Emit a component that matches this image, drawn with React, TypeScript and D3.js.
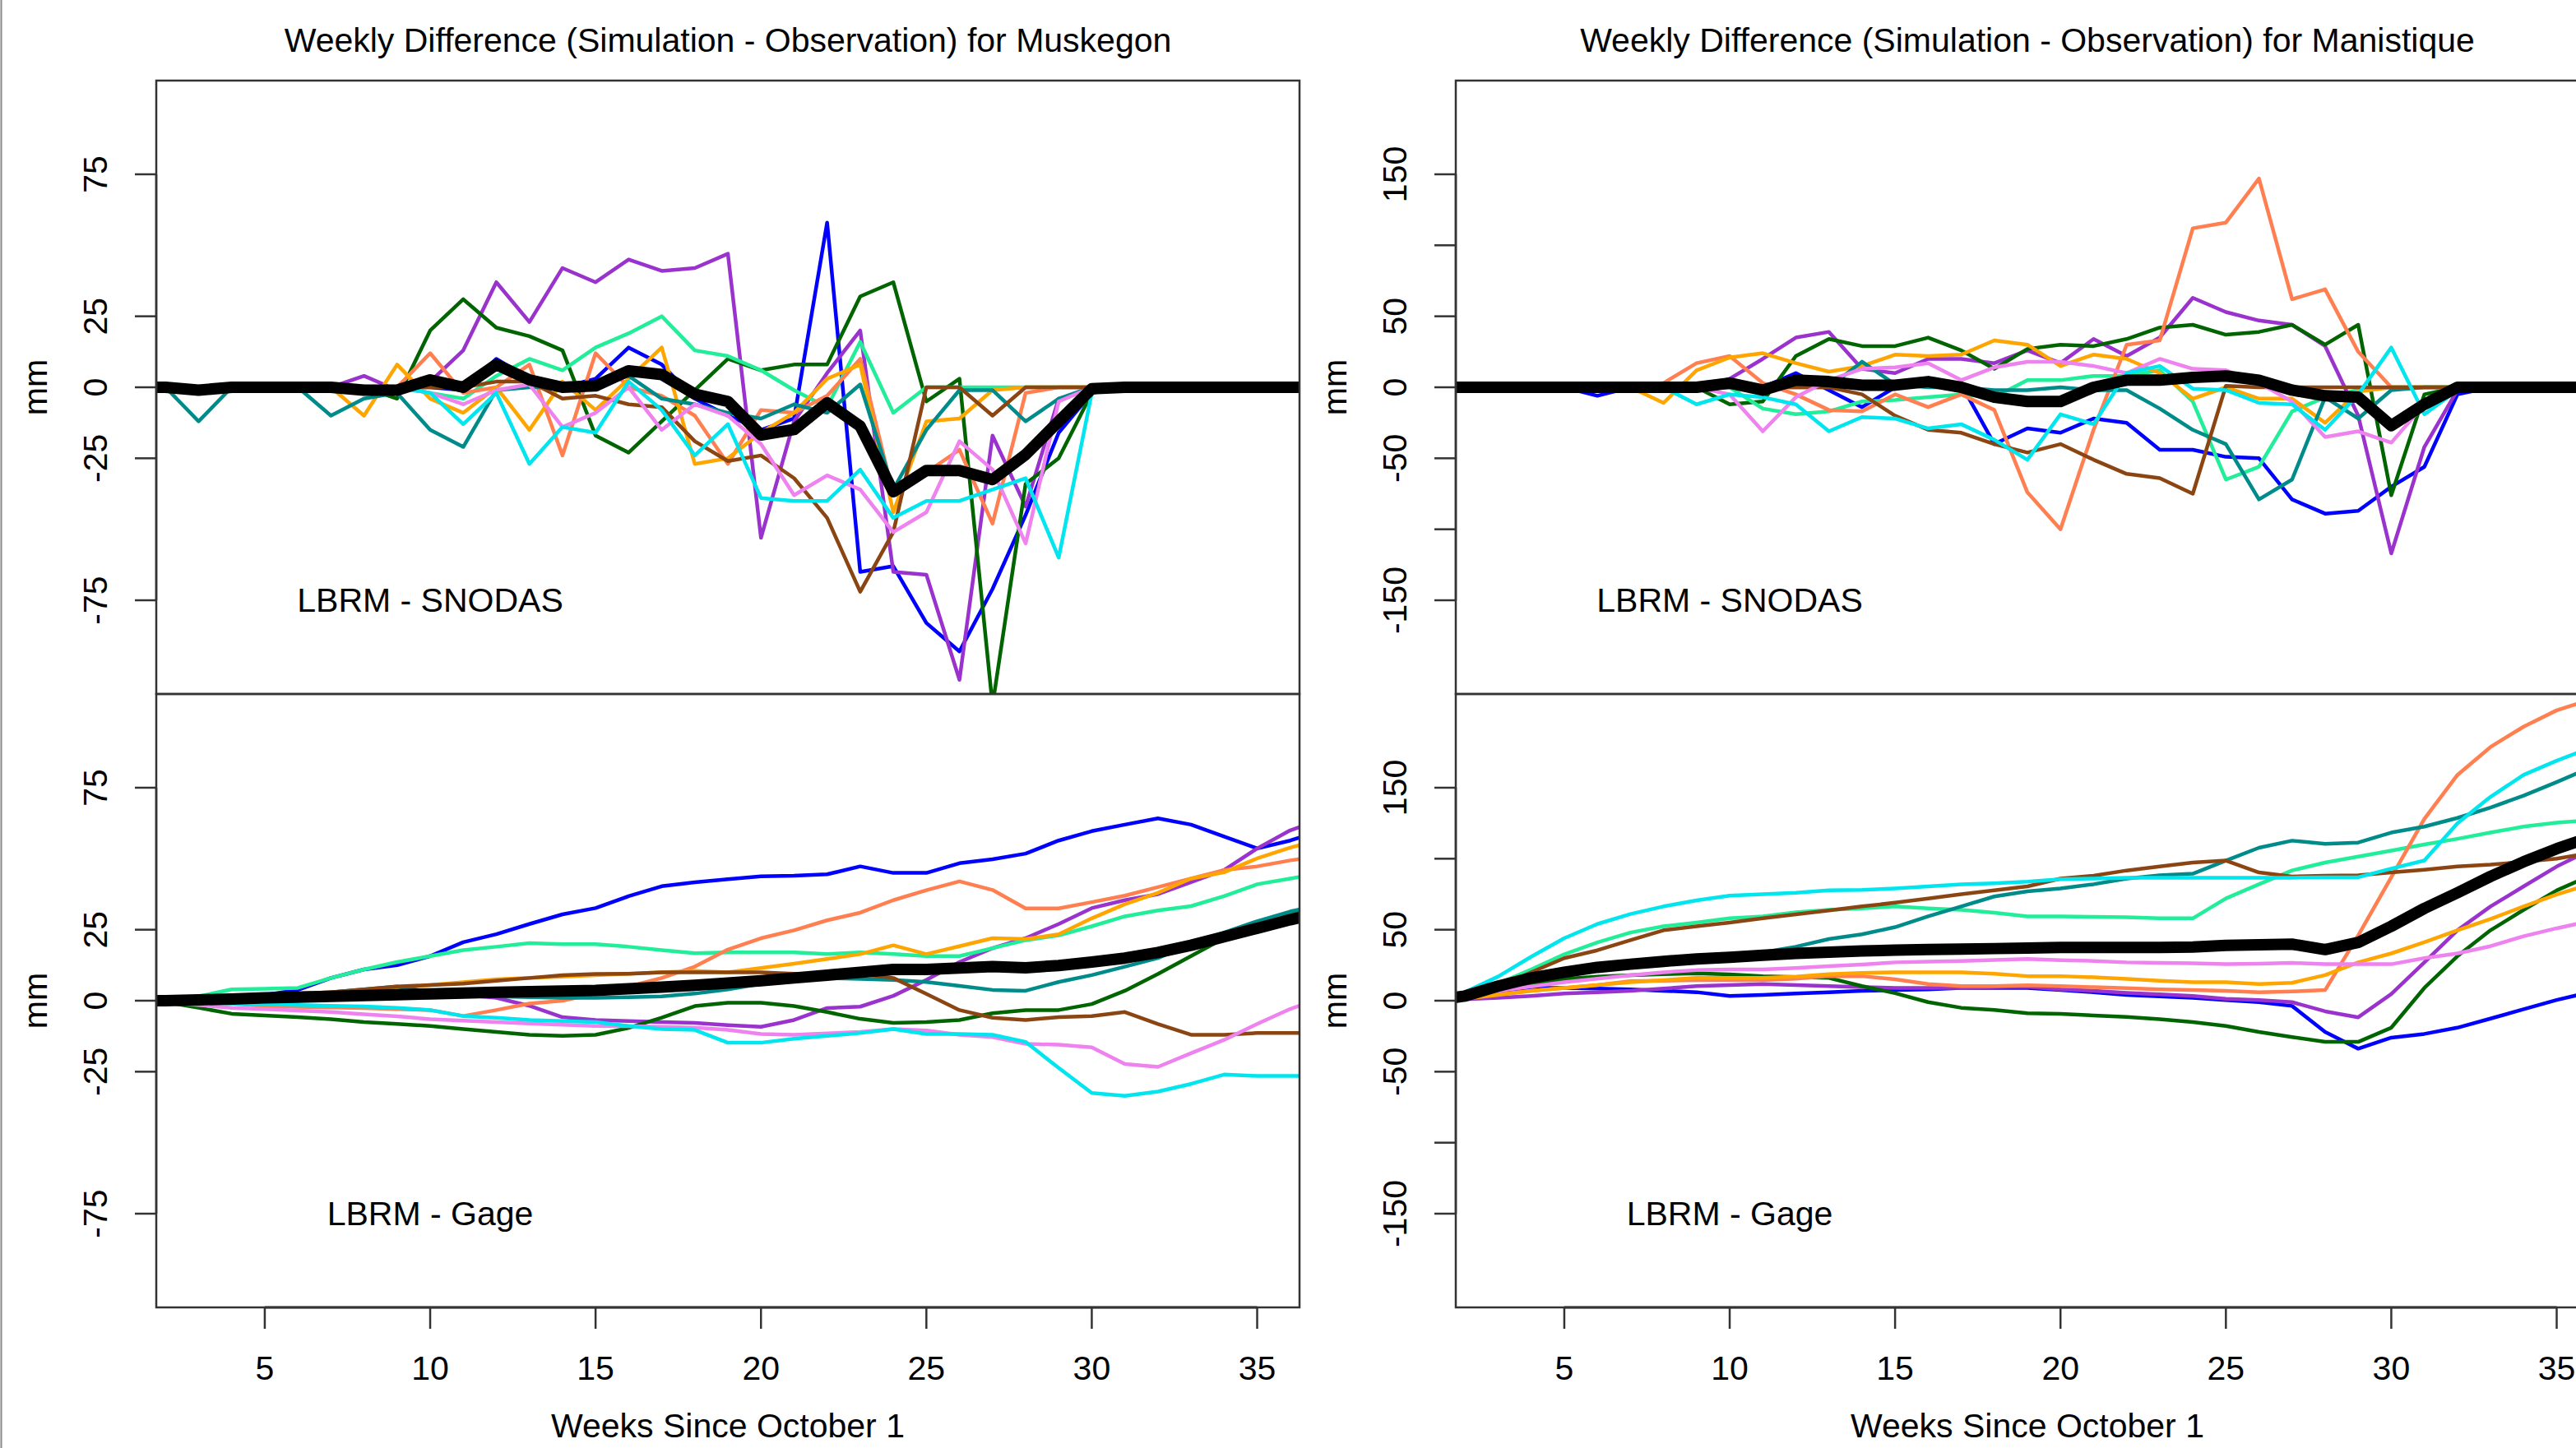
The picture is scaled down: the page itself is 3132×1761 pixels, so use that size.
import React from "react";
import * as d3 from "d3";

const WIDTH = 3132;
const HEIGHT = 1761;
const FONT = "'Liberation Sans', Arial, Helvetica, sans-serif";
const FONT_SIZE = 41;

// weeks since October 1
const weeks = d3.range(1, 38);
const xTicks = [5, 10, 15, 20, 25, 30, 35];

const muskegonYTicks = [75, 25, 0, -25, -75];
const muskegonYLabels = ["75", "25", "0", "-25", "-75"];
const manistiqueYTicks = [150, 100, 50, 0, -50, -100, -150];
const manistiqueYLabels = ["150", "", "50", "0", "-50", "", "-150"];

const seriesColors = [
  "#0000FF", "#9A32CD", "#006400", "#22EE99", "#FF7F50",
  "#FFA500", "#008B8B", "#8B4513", "#EE82EE", "#00E5EE",
];

// ---- Muskegon, LBRM - SNODAS
const muskSnoBlue = [0,0,0,0,0,0,0,0,0,0,-1,10,3,0,3,14,8,-4,-10,-15,-11,58,-65,-63,-83,-93,-71,-45,-16,-2,0,0,0,0,0,0,0];
const muskSnoPurple = [0,0,0,0,0,0,0,4,-1,2,13,37,23,42,37,45,41,42,47,-53,-12,5,20,-65,-66,-103,-17,-42,-4,-1,0,0,0,0,0,0,0];
const muskSnoDarkGreen = [0,0,0,0,0,0,0,0,-4,20,31,21,18,13,-17,-23,-12,-1,10,6,8,8,32,37,-5,3,-112,-34,-25,-2,0,0,0,0,0,0,0];
const muskSnoSpring = [0,0,0,0,0,0,0,0,0,-2,-4,4,10,6,14,19,25,13,11,6,-1,-7,16,-9,0,0,0,0,0,0,0,0,0,0,0,0,0];
const muskSnoCoral = [0,0,0,0,0,0,0,0,0,12,-2,0,8,-24,12,0,-3,-10,-27,-8,-9,-3,10,-38,-30,-22,-48,-2,0,0,0,0,0,0,0,0,0];
const muskSnoOrange = [0,0,0,0,0,0,0,-10,8,-4,-9,0,-15,2,-8,3,14,-27,-25,-16,-9,3,8,-44,-12,-11,-1,0,0,0,0,0,0,0,0,0,0];
const muskSnoTeal = [0,0,-12,0,0,0,-10,-4,-2,-15,-21,-1,0,0,1,4,-4,-6,-9,-11,-6,-9,1,-36,-15,-1,-1,-12,-4,0,0,0,0,0,0,0,0];
const muskSnoBrown = [0,0,0,0,0,0,0,0,0,0,0,2,2,-4,-3,-6,-7,-19,-26,-24,-32,-46,-72,-51,0,0,-10,0,0,0,0,0,0,0,0,0,0];
const muskSnoViolet = [0,0,0,0,0,0,0,0,0,-2,-6,-1,1,-14,-9,0,-15,-6,-10,-20,-38,-31,-36,-51,-44,-19,-29,-55,-5,0,0,0,0,0,0,0,0];
const muskSnoCyan = [0,0,0,0,0,0,0,0,0,-2,-13,-2,-27,-14,-16,2,-8,-24,-13,-39,-40,-40,-29,-46,-40,-40,-36,-32,-60,-2,0,0,0,0,0,0,0];
const muskSnoMean = [0,0,-1,0,0,0,0,-1,-1,2.6,0,8,2.6,0,0.5,5.8,4.5,-2.4,-5,-16.8,-14.9,-5.5,-13.7,-36.8,-29.3,-29.3,-32.5,-23.7,-12,-0.5,0,0,0,0,0,0,0];

// ---- Manistique, LBRM - SNODAS
const maniSnoBlue = [0,0,0,0,0,-6,0,0,0,0,0,10,-2,-14,0,3,2,-40,-29,-32,-22,-25,-44,-44,-49,-50,-79,-89,-87,-70,-56,-5,0,0,0,0,0];
const maniSnoPurple = [0,0,0,0,0,0,0,0,0,6,20,35,39,13,10,20,20,17,26,17,34,22,35,63,53,47,44,29,-20,-117,-42,-2,0,0,0,0,0];
const maniSnoDarkGreen = [0,0,0,0,0,0,0,0,0,-12,-10,22,34,29,29,35,26,13,27,30,29,34,42,44,37,39,44,30,44,-76,-5,0,0,0,0,0,0];
const maniSnoSpring = [0,0,0,0,0,0,0,0,0,0,-15,-19,-17,-10,-9,-7,-5,-7,5,5,8,8,12,-10,-65,-56,-17,-7,-2,0,0,0,0,0,0,0,0];
const maniSnoCoral = [0,0,0,0,0,0,0,3,17,22,3,-5,-16,-17,-5,-14,-5,-16,-74,-100,-30,30,33,112,116,147,62,69,25,0,0,0,0,0,0,0,0];
const maniSnoOrange = [0,0,0,0,0,0,0,-11,12,21,24,17,11,15,23,22,23,33,30,15,23,20,10,-8,0,-8,-8,-25,-3,0,0,0,0,0,0,0,0];
const maniSnoTeal = [0,0,0,0,0,0,0,0,0,0,0,0,0,18,2,0,0,-2,-2,0,-2,-2,-15,-30,-40,-79,-65,-7,-22,-2,0,0,0,0,0,0,0];
const maniSnoBrown = [0,0,0,0,0,0,0,0,0,0,0,0,0,-5,-20,-30,-32,-40,-46,-40,-51,-61,-64,-75,1,0,0,0,0,0,0,0,0,0,0,0,0];
const maniSnoViolet = [0,0,0,0,0,0,0,0,0,-5,-31,-7,5,13,14,17,5,14,18,18,15,10,20,13,12,3,-10,-35,-31,-39,-12,0,0,0,0,0,0];
const maniSnoCyan = [0,0,0,0,0,0,0,0,-12,-5,-7,-12,-31,-21,-22,-29,-26,-37,-51,-19,-26,10,15,-1,-2,-11,-12,-30,-5,28,-19,-2,0,0,0,0,0];
const maniSnoMean = [0,0,0,0,0,0,0,0,0,3,-2,5,4,1.5,1.5,4,0,-7,-10,-10,0,5,5,7,8,5,-2,-6,-7,-27,-12,0,0,0,0,0,0];

// ---- Muskegon, LBRM - Gage
const muskGageBlue = [0,0,0.5,1,2,3.8,8,11,12.5,15.7,20.6,23.4,27,30.4,32.6,36.8,40.3,41.7,42.8,43.8,44,44.5,47.3,45,45,48.4,49.8,51.8,56.4,59.7,62,64.2,62,57.8,53.6,56.4,60];
const muskGagePurple = [0,0.5,1,1.5,2,2.5,3,3.8,3.5,3,2,1,-1.8,-5.8,-6.8,-7.2,-7.5,-7.8,-8.6,-9.2,-6.8,-2.6,-2.1,1.7,7.3,13.6,18.5,22,27,32.6,35.4,37.5,41.7,46,53.6,60,64];
const muskGageDarkGreen = [0,-0.5,-2.5,-4.6,-5.2,-5.8,-6.5,-7.5,-8.2,-8.9,-10,-11,-12,-12.4,-12,-9.6,-6,-1.9,-0.7,-0.7,-1.9,-4,-6.4,-7.8,-7.5,-6.8,-4.4,-3.3,-3.3,-1.2,3.5,9.4,15.7,22,26.2,30.4,34];
const muskGageSpring = [0,0.5,1.5,4,4.2,4.5,8,11,13.6,15.7,17.8,19,20.3,19.9,19.9,19,17.8,16.7,17,17,17,16.4,17,16.4,15.7,15.7,18.5,21.3,23,26.2,29.7,31.8,33.3,36.8,41,43,45];
const muskGageCoral = [0,0,-0.5,-1,-1.9,-2.2,-2.4,-2.6,-3,-3.3,-5.4,-3.3,-1,0,2.5,5,8,12,18,22,24.8,28.3,31,35.4,38.9,42,39,32.5,32.5,34.7,37,40,43,46,47.3,49.4,51];
const muskGageOrange = [0,0.3,0.8,1.5,2,2.5,3,3.5,4.5,5.5,6.5,7.5,8,8.5,9,9.5,10,10.5,10,11.5,13,14.7,16.4,19.5,16.4,19.2,22,21.7,23.4,29,34,38,43,45.2,50.1,53.9,57];
const muskGageTeal = [0,0,0.5,1,1.5,2,3,4,5,3,2,1.5,1.2,1,1,1.2,1.5,2.5,4,5.9,7,8,7.7,7.3,6.6,5.2,3.8,3.5,6.6,9,12,15,20,24,28,31.4,34];
const muskGageBrown = [0,0.5,1,1.5,2,2.5,3,4,5,5.5,6,7,8,9,9.4,9.5,10,10,10,10,9.5,8.7,9.4,8,2.4,-3.3,-6,-6.8,-5.8,-5.4,-4,-8.2,-12,-12,-11.4,-11.4,-11.4];
const muskGageViolet = [0,-0.5,-1.5,-2.5,-3,-3.5,-4,-4.8,-5.5,-6.5,-7,-7.5,-8,-8.5,-8.9,-9,-9.2,-9.5,-10.3,-11.7,-12,-11.5,-11,-10,-10.5,-12,-12.8,-15.2,-15.5,-16.4,-22.3,-23.3,-18.5,-13.8,-8.2,-2.9,1];
const muskGageCyan = [0,0,-0.5,-1,-1.2,-1.5,-1.8,-2,-2.5,-3.3,-5.4,-6,-6.8,-7.2,-7.5,-8.9,-10,-10.3,-14.8,-14.8,-13.4,-12.4,-11.4,-10,-11.7,-11.7,-12,-14.5,-23.7,-32.5,-33.5,-32,-29.3,-26,-26.5,-26.5,-26.5];
const muskGageMean = [0,0,0.3,0.6,1,1.2,1.5,1.8,2.1,2.4,2.7,3,3.2,3.4,3.6,4.2,4.8,5.4,6.2,7,8,9,10,11,11,11.5,12,11.6,12.4,13.6,15,17,19.5,22.5,25.5,28.5,31];

// ---- Manistique, LBRM - Gage
const maniGageBlue = [0,2,5,9,9,8.5,8,7,6,3.3,4,5,6,7,7.5,8,9,9,9,7.5,6,4,3,2,0.5,-1,-3.7,-22,-33.8,-26,-23.4,-19,-12.6,-6,0.5,6,10];
const maniGagePurple = [0,1,2,3.3,5,6,7,8.5,10.3,11,11.7,11,10.3,9.5,9,9,9,9.5,9.8,8,7,5.5,4.5,3.3,1.3,0.5,-1,-7.5,-11.7,4.7,27,49.6,66.4,80.5,94.5,106,115];
const maniGageDarkGreen = [0,3,7,11,15.3,17,18,18.7,19.3,18.5,17.3,16.7,16,10.3,5.3,-1,-5,-6.5,-8.8,-9.3,-10.4,-11.5,-13,-15,-17.8,-22,-25.6,-29,-29,-19,9,31.4,49.6,64,77.7,88,96];
const maniGageSpring = [0,4,12,22,32.7,41,48,52.4,55,58,59.4,62.2,64,65,66.4,65,64,62,59.4,59.4,59,58.8,58,58,72,82,91.7,97.3,101.5,105.7,110,114,118.4,122.6,125.4,127,128];
const maniGageCoral = [0,2,4.5,7,9,11,13.7,14,14.5,14.5,14.5,15.5,17.3,17.3,15,11.7,10.3,10.3,10.8,10.3,9.5,8.9,8,7.5,6.9,6,6.5,7.5,46,87,128,159,178.7,193,204.5,212,218];
const maniGageOrange = [0,1.5,4,7,9,11,13,14.5,16,16,16,17,18.7,19.5,20,20,20,19,17.3,17.3,16.5,15.3,14,13,13,11.7,12.6,18,27,33.3,41.2,49.6,57.5,66.4,74.8,82,88];
const maniGageTeal = [0,3,9.5,15,19,22.5,25,27,29,31,34,38,43.4,46.8,51.8,59.4,66.4,73.4,77,79,82,86,88.3,89.4,98.7,107.7,112.7,110.5,111.4,118.4,122.6,128.7,136,144.4,154,164,172];
const maniGageBrown = [0,3,10,20,30,35.5,42.6,49.6,52.4,55,58,60.8,63.6,66.4,69,72,75,77.7,80.5,86,88,91.7,94.5,97.3,98.7,90.3,87.5,88,88.3,90.3,92.2,94.5,95.8,97.8,100,104,107];
const maniGageViolet = [0,3,7,10,13,15.5,18,20,21.5,22,22,23,24.3,25.5,27,27.5,28,28.7,29.4,28.5,28,27,26.6,26.3,25.7,26,26.6,25.7,25.7,25.7,30,33.3,38.4,45.4,51,56,60];
const maniGageCyan = [0,6,17,31,44,54,61,66.4,70.6,74,75,76,77.7,78,79,80.5,82,82.7,83.8,85.5,86,86.6,86.6,86.6,86.6,86.6,86.6,86.9,86.9,93,98.7,125,143.6,159,169,178,185];
const maniGageMean = [0,3.3,10.3,16,20,23.5,25.7,27.7,29.4,30.5,32,33.3,34.2,35,35.6,36,36.4,36.7,37,37.5,37.5,37.5,37.5,37.8,39,39.4,39.8,36,41,52.4,65,76,87.5,97.8,107,115,122];

const muskSnoSeries = [muskSnoBlue, muskSnoPurple, muskSnoDarkGreen, muskSnoSpring, muskSnoCoral, muskSnoOrange, muskSnoTeal, muskSnoBrown, muskSnoViolet, muskSnoCyan];
const maniSnoSeries = [maniSnoBlue, maniSnoPurple, maniSnoDarkGreen, maniSnoSpring, maniSnoCoral, maniSnoOrange, maniSnoTeal, maniSnoBrown, maniSnoViolet, maniSnoCyan];
const muskGageSeries = [muskGageBlue, muskGagePurple, muskGageDarkGreen, muskGageSpring, muskGageCoral, muskGageOrange, muskGageTeal, muskGageBrown, muskGageViolet, muskGageCyan];
const maniGageSeries = [maniGageBlue, maniGagePurple, maniGageDarkGreen, maniGageSpring, maniGageCoral, maniGageOrange, maniGageTeal, maniGageBrown, maniGageViolet, maniGageCyan];

// layout
const BOX_W = 1390;
const BOX_H = 746;
const LEFT_X = 190;
const RIGHT_X = 1770;
const TOP_Y = 98;
const BOTTOM_Y = 844;
const X_DOMAIN: [number, number] = [1.72, 36.28];
const AXIS_COLOR = "#333";

type PanelProps = {
  id: string;
  left: number;
  top: number;
  yMax: number;
  yTicks: number[];
  yLabels: string[];
  series: number[][];
  mean: number[];
  label: string;
  labelY: number;
  xAxis: boolean;
};

function Panel({ id, left, top, yMax, yTicks, yLabels, series, mean, label, labelY, xAxis }: PanelProps) {
  const x = d3.scaleLinear().domain(X_DOMAIN).range([left, left + BOX_W]);
  const y = d3.scaleLinear().domain([-yMax, yMax]).range([top + BOX_H, top]);
  const line = d3
    .line<number>()
    .x((_, i) => x(weeks[i]))
    .y((d) => y(d));
  const bottom = top + BOX_H;

  return (
    <g>
      <defs>
        <clipPath id={id}>
          <rect x={left} y={top} width={BOX_W} height={BOX_H} />
        </clipPath>
      </defs>
      <g clipPath={`url(#${id})`} fill="none" strokeLinejoin="round" strokeLinecap="round">
        {series.map((s, i) => (
          <path key={i} d={line(s) || ""} stroke={seriesColors[i]} strokeWidth={4.5} />
        ))}
        <path d={line(mean) || ""} stroke="#000" strokeWidth={14} />
      </g>
      <rect x={left} y={top} width={BOX_W} height={BOX_H} fill="none" stroke={AXIS_COLOR} strokeWidth={2.5} />

      {/* y axis */}
      <line
        x1={left}
        x2={left}
        y1={y(d3.max(yTicks)!)}
        y2={y(d3.min(yTicks)!)}
        stroke={AXIS_COLOR}
        strokeWidth={2.5}
      />
      {yTicks.map((t, i) => (
        <g key={t}>
          <line x1={left - 26} x2={left} y1={y(t)} y2={y(t)} stroke={AXIS_COLOR} strokeWidth={2.5} />
          {yLabels[i] && (
            <text
              transform={`translate(${left - 60},${y(t)}) rotate(-90)`}
              textAnchor="middle"
              fontSize={FONT_SIZE}
              fontFamily={FONT}
              fill="#000"
            >
              {yLabels[i]}
            </text>
          )}
        </g>
      ))}
      <text
        transform={`translate(${left - 133},${top + BOX_H / 2}) rotate(-90)`}
        textAnchor="middle"
        fontSize={FONT_SIZE}
        fontFamily={FONT}
        fill="#000"
      >
        mm
      </text>

      {/* x axis (bottom panels only) */}
      {xAxis && (
        <g>
          <line
            x1={x(xTicks[0])}
            x2={x(xTicks[xTicks.length - 1])}
            y1={bottom}
            y2={bottom}
            stroke={AXIS_COLOR}
            strokeWidth={3}
          />
          {xTicks.map((t) => (
            <g key={t}>
              <line x1={x(t)} x2={x(t)} y1={bottom} y2={bottom + 26} stroke={AXIS_COLOR} strokeWidth={2.5} />
              <text x={x(t)} y={bottom + 88} textAnchor="middle" fontSize={FONT_SIZE} fontFamily={FONT} fill="#000">
                {t}
              </text>
            </g>
          ))}
        </g>
      )}

      <text x={x(10)} y={y(labelY)} dy="0.35em" textAnchor="middle" fontSize={FONT_SIZE} fontFamily={FONT} fill="#000">
        {label}
      </text>
    </g>
  );
}

export default function App() {
  return (
    <svg
      width={WIDTH}
      height={HEIGHT}
      viewBox={`0 0 ${WIDTH} ${HEIGHT}`}
      style={{ position: "absolute", left: 0, top: 0, background: "#fff" }}
    >
      <rect x={0} y={0} width={WIDTH} height={HEIGHT} fill="#fff" />
      <line x1={1.5} x2={1.5} y1={0} y2={HEIGHT} stroke="#888" strokeWidth={2} />

      <text x={LEFT_X + BOX_W / 2} y={63} textAnchor="middle" fontSize={FONT_SIZE} fontFamily={FONT} fill="#000">
        Weekly Difference (Simulation - Observation) for Muskegon
      </text>
      <text x={RIGHT_X + BOX_W / 2} y={63} textAnchor="middle" fontSize={FONT_SIZE} fontFamily={FONT} fill="#000">
        Weekly Difference (Simulation - Observation) for Manistique
      </text>

      <Panel id="clip-musk-sno" left={LEFT_X} top={TOP_Y} yMax={108} yTicks={muskegonYTicks} yLabels={muskegonYLabels}
        series={muskSnoSeries} mean={muskSnoMean} label="LBRM - SNODAS" labelY={-75} xAxis={false} />
      <Panel id="clip-musk-gage" left={LEFT_X} top={BOTTOM_Y} yMax={108} yTicks={muskegonYTicks} yLabels={muskegonYLabels}
        series={muskGageSeries} mean={muskGageMean} label="LBRM - Gage" labelY={-75} xAxis={true} />
      <Panel id="clip-mani-sno" left={RIGHT_X} top={TOP_Y} yMax={216} yTicks={manistiqueYTicks} yLabels={manistiqueYLabels}
        series={maniSnoSeries} mean={maniSnoMean} label="LBRM - SNODAS" labelY={-150} xAxis={false} />
      <Panel id="clip-mani-gage" left={RIGHT_X} top={BOTTOM_Y} yMax={216} yTicks={manistiqueYTicks} yLabels={manistiqueYLabels}
        series={maniGageSeries} mean={maniGageMean} label="LBRM - Gage" labelY={-150} xAxis={true} />

      <text x={LEFT_X + BOX_W / 2} y={1748} textAnchor="middle" fontSize={FONT_SIZE} fontFamily={FONT} fill="#000">
        Weeks Since October 1
      </text>
      <text x={RIGHT_X + BOX_W / 2} y={1748} textAnchor="middle" fontSize={FONT_SIZE} fontFamily={FONT} fill="#000">
        Weeks Since October 1
      </text>
    </svg>
  );
}
